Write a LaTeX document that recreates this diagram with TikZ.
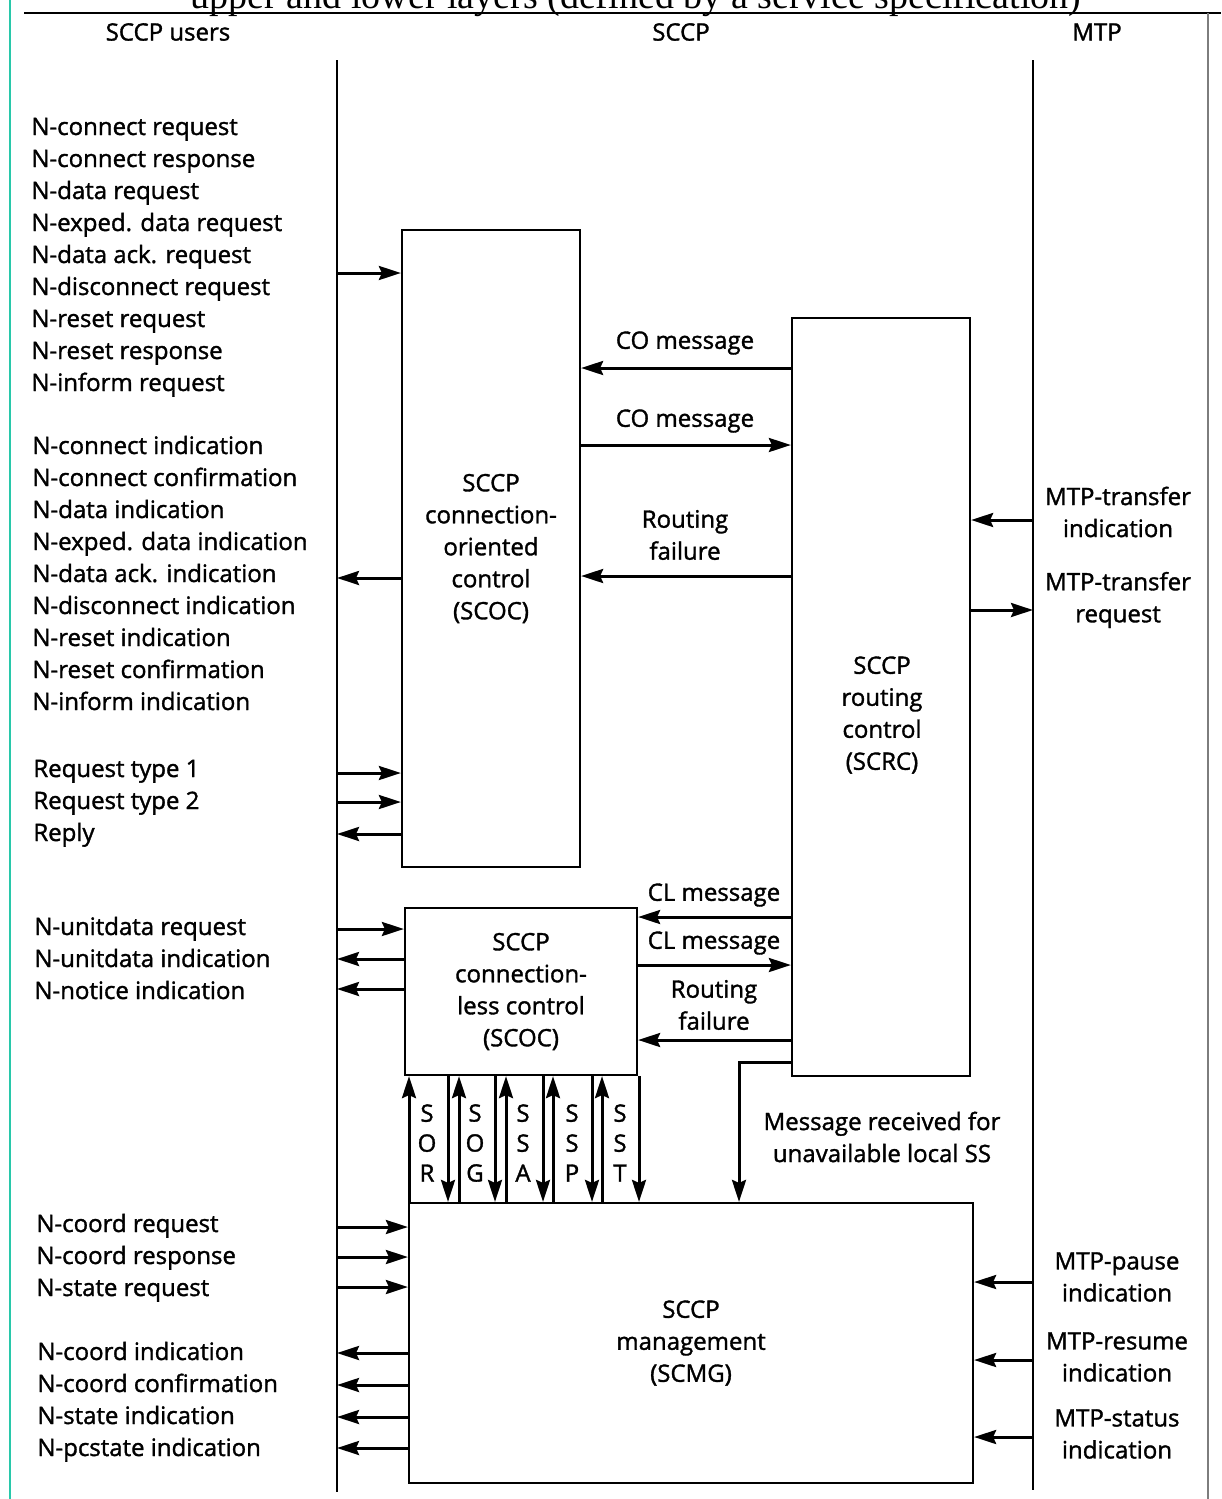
\documentclass[tikz,border=0pt]{standalone}
\usepackage{fontspec}
\setmainfont{Open Sans}
\newfontfamily\diagfont{Open Sans}[FakeBold=1.4]
\newfontfamily\bookfont{Liberation Serif}
\usepackage{tikz}
\usetikzlibrary{arrows.meta, positioning}
\definecolor{edgeteal}{RGB}{40,200,170}
\definecolor{pagegray}{RGB}{125,125,125}
\tikzstyle{block} = [rectangle, draw=black, line width=1.1pt, inner sep=0pt, align=center]
\tikzstyle{prim} = [anchor=west, inner sep=0pt, text height=9pt, text depth=3pt]
\tikzstyle{msg} = [align=center, inner sep=0pt]
\tikzstyle{arrow} = [line width=1.5pt, -{Stealth[length=11pt, width=7pt, inset=1.5pt]}]
\tikzstyle{layer} = [line width=1.1pt]

\begin{document}
\begin{tikzpicture}[x=0.5pt, y=-0.5pt, node distance=16pt,
  every node/.style={font=\diagfont\fontsize{12}{16}\selectfont}]
\useasboundingbox (0,0) rectangle (1221,1499);
\fill [white] (0,0) rectangle (1221,1499);

% page edges
\draw [edgeteal, line width=1pt] (10,0) -- (10,1499);
\draw [line width=1pt] (24,13) -- (1221,13);
\draw [pagegray, line width=1pt] (1208,13) -- (1208,1499);
\node (caption) [anchor=base, inner sep=0pt, font=\bookfont\fontsize{19}{19}\selectfont] at (636,9)
  {upper and lower layers (defined by a service specification)};

% column heads
\node (hdusers) at (168,32) {SCCP users};
\node (hdsccp) at (681,32) {SCCP};
\node (hdmtp) at (1097,32) {MTP};

% layer boundaries
\coordinate (utop) at (337,60);
\coordinate (ubot) at (337,1492);
\coordinate (mtop) at (1033,60);
\coordinate (mbot) at (1033,1490);
\draw [layer] (utop) -- (ubot);
\draw [layer] (mtop) -- (mbot);

% blocks
\node (scoc) [block, minimum width=89pt, minimum height=318.5pt] at (491,548.5)
  {SCCP\\connection-\\oriented\\control\\(SCOC)};
\node (scrc) [block, minimum width=89pt, minimum height=379pt] at (881,697) {};
\node (scrctext) [msg] at (882,715) {SCCP\\routing\\control\\(SCRC)};
\node (sclc) [block, minimum width=116pt, minimum height=83.5pt] at (521,991.5)
  {SCCP\\connection-\\less control\\(SCOC)};
\node (scmg) [block, minimum width=282pt, minimum height=140pt] at (691,1343)
  {SCCP\\management\\(SCMG)};

% connection-oriented primitives
\node (pa1) [prim] at (31,129) {N-connect request};
\node (pa2) [prim, below=of pa1.west, anchor=west] {N-connect response};
\node (pa3) [prim, below=of pa2.west, anchor=west] {N-data request};
\node (pa4) [prim, below=of pa3.west, anchor=west] {N-exped. data request};
\node (pa5) [prim, below=of pa4.west, anchor=west] {N-data ack. request};
\node (pa6) [prim, below=of pa5.west, anchor=west] {N-disconnect request};
\node (pa7) [prim, below=of pa6.west, anchor=west] {N-reset request};
\node (pa8) [prim, below=of pa7.west, anchor=west] {N-reset response};
\node (pa9) [prim, below=of pa8.west, anchor=west] {N-inform request};

\node (pb1) [prim] at (32,448) {N-connect indication};
\node (pb2) [prim, below=of pb1.west, anchor=west] {N-connect confirmation};
\node (pb3) [prim, below=of pb2.west, anchor=west] {N-data indication};
\node (pb4) [prim, below=of pb3.west, anchor=west] {N-exped. data indication};
\node (pb5) [prim, below=of pb4.west, anchor=west] {N-data ack. indication};
\node (pb6) [prim, below=of pb5.west, anchor=west] {N-disconnect indication};
\node (pb7) [prim, below=of pb6.west, anchor=west] {N-reset indication};
\node (pb8) [prim, below=of pb7.west, anchor=west] {N-reset confirmation};
\node (pb9) [prim, below=of pb8.west, anchor=west] {N-inform indication};

\node (pc1) [prim] at (33,771) {Request type 1};
\node (pc2) [prim, below=of pc1.west, anchor=west] {Request type 2};
\node (pc3) [prim, below=of pc2.west, anchor=west] {Reply};

% connectionless primitives
\node (pd1) [prim] at (34,929) {N-unitdata request};
\node (pd2) [prim, below=of pd1.west, anchor=west] {N-unitdata indication};
\node (pd3) [prim, below=of pd2.west, anchor=west] {N-notice indication};

% management primitives
\node (pe1) [prim] at (36,1226) {N-coord request};
\node (pe2) [prim, below=of pe1.west, anchor=west] {N-coord response};
\node (pe3) [prim, below=of pe2.west, anchor=west] {N-state request};

\node (pf1) [prim] at (37,1354) {N-coord indication};
\node (pf2) [prim, below=of pf1.west, anchor=west] {N-coord confirmation};
\node (pf3) [prim, below=of pf2.west, anchor=west] {N-state indication};
\node (pf4) [prim, below=of pf3.west, anchor=west] {N-pcstate indication};

% user side arrows
\foreach \y/\b in {273/scoc, 773/scoc, 802/scoc, 929/sclc, 1227/scmg, 1257/scmg, 1287/scmg}
  \draw [arrow] (utop |- 0,\y) -- (\b.west |- 0,\y);
\foreach \y/\b in {578/scoc, 834/scoc, 959/sclc, 989/sclc, 1353/scmg, 1385/scmg, 1417/scmg, 1448/scmg}
  \draw [arrow] (\b.west |- 0,\y) -- (utop |- 0,\y);

% SCOC <-> SCRC
\draw [arrow] (scrc.west |- 0,368) -- (scoc.east |- 0,368);
\draw [arrow] (scoc.east |- 0,445) -- (scrc.west |- 0,445);
\draw [arrow] (scrc.west |- 0,576) -- (scoc.east |- 0,576);
\node (com1) at (685,343) {CO message};
\node (com2) at (685,421) {CO message};
\node (cofail) [msg] at (685,535) {Routing\\failure};

% SCLC <-> SCRC
\draw [arrow] (scrc.west |- 0,917) -- (sclc.east |- 0,917);
\draw [arrow] (sclc.east |- 0,965) -- (scrc.west |- 0,965);
\draw [arrow] (scrc.west |- 0,1040) -- (sclc.east |- 0,1040);
\node (clm1) at (714,895) {CL message};
\node (clm2) at (714,943) {CL message};
\node (clfail) [msg] at (714,1005) {Routing\\failure};

% SCLC <-> SCMG
\foreach \x in {409,459,506,553,602}
  \draw [arrow] (scmg.north -| \x,0) -- (sclc.south -| \x,0);
\foreach \x in {448,495,543,592,639}
  \draw [arrow] (sclc.south -| \x,0) -- (scmg.north -| \x,0);
\foreach \x/\t in {427/{S\\O\\R}, 475/{S\\O\\G}, 523/{S\\S\\A}, 572/{S\\S\\P}, 620/{S\\S\\T}}
  \node [msg, font=\diagfont\fontsize{12}{15}\selectfont] at (\x,1143) {\t};

% SCRC -> SCMG
\draw [arrow] (scrc.west |- 0,1062) -| (scmg.north -| 739,0);
\node (lostss) [msg] at (882,1137) {Message received for\\unavailable local SS};

% MTP side arrows
\draw [arrow] (mtop |- 0,520) -- (scrc.east |- 0,520);
\draw [arrow] (scrc.east |- 0,610) -- (mtop |- 0,610);
\draw [arrow] (mtop |- 0,1282) -- (scmg.east |- 0,1282);
\draw [arrow] (mtop |- 0,1360) -- (scmg.east |- 0,1360);
\draw [arrow] (mtop |- 0,1437) -- (scmg.east |- 0,1437);
\node (mtpind) [msg] at (1118,512) {MTP-transfer\\indication};
\node (mtpreq) [msg] at (1118,600) {MTP-transfer\\request};
\node (mtppause) [msg] at (1117,1277) {MTP-pause\\indication};
\node (mtpresume) [msg] at (1117,1357) {MTP-resume\\indication};
\node (mtpstatus) [msg] at (1117,1434) {MTP-status\\indication};
\end{tikzpicture}
\end{document}
